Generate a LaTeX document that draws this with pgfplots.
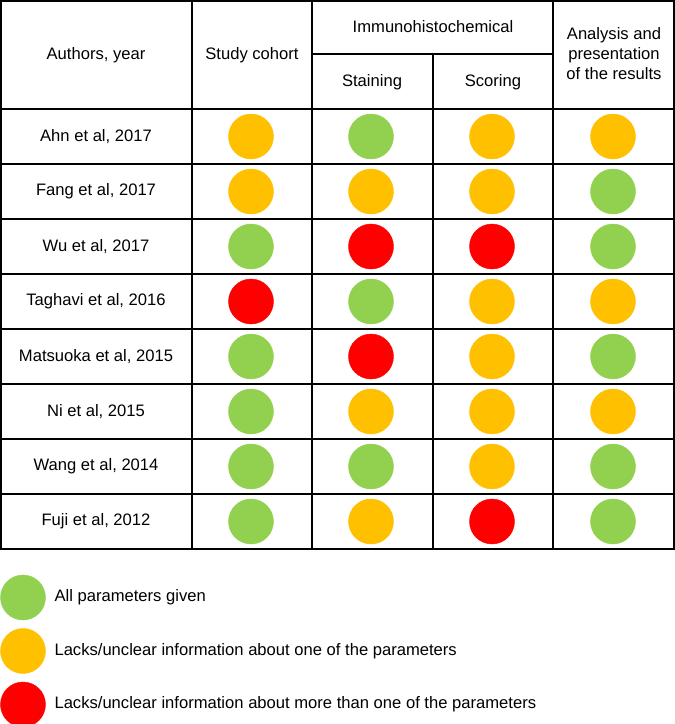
\documentclass[border=0pt]{standalone}
\usepackage{fontspec}
\setmainfont{Liberation Sans}
\usepackage{pgfplots}
\pgfplotsset{compat=1.18}
\definecolor{cgreen}{HTML}{92D050}
\definecolor{corange}{HTML}{FFC000}
\definecolor{cred}{HTML}{FF0000}
\begin{document}
\begin{tikzpicture}[font=\fontsize{16.6}{20}\selectfont]
\begin{axis}[width=675pt,height=724pt,scale only axis,
  xmin=0,xmax=675,ymin=0,ymax=724,y dir=reverse,hide axis,clip=false]
% table grid
\draw[line width=1.3pt] (axis cs:1,1) rectangle (axis cs:674,549);
\draw[line width=1.3pt] (axis cs:192,1) -- (axis cs:192,549);
\draw[line width=1.3pt] (axis cs:312,1) -- (axis cs:312,549);
\draw[line width=1.3pt] (axis cs:553,1) -- (axis cs:553,549);
\draw[line width=1.3pt] (axis cs:433,54) -- (axis cs:433,549);
\draw[line width=1.3pt] (axis cs:312,54) -- (axis cs:553,54);
\draw[line width=1.3pt] (axis cs:1,109) -- (axis cs:674,109);
\draw[line width=1.3pt] (axis cs:1,164) -- (axis cs:674,164);
\draw[line width=1.3pt] (axis cs:1,219) -- (axis cs:674,219);
\draw[line width=1.3pt] (axis cs:1,274) -- (axis cs:674,274);
\draw[line width=1.3pt] (axis cs:1,329) -- (axis cs:674,329);
\draw[line width=1.3pt] (axis cs:1,384) -- (axis cs:674,384);
\draw[line width=1.3pt] (axis cs:1,439) -- (axis cs:674,439);
\draw[line width=1.3pt] (axis cs:1,494) -- (axis cs:674,494);
% header text
\node at (axis cs:96,55) {Authors, year};
\node at (axis cs:252,55) {Study cohort};
\node at (axis cs:433,27) {Immunohistochemical};
\node at (axis cs:372,82) {Staining};
\node at (axis cs:493,82) {Scoring};
\node[align=center] at (axis cs:614,54) {Analysis and\\presentation\\of the results};
% row labels
\node at (axis cs:96,136.5) {Ahn et al, 2017};
\node at (axis cs:96,191.5) {Fang et al, 2017};
\node at (axis cs:96,246.5) {Wu et al, 2017};
\node at (axis cs:96,301.5) {Taghavi et al, 2016};
\node at (axis cs:96,356.5) {Matsuoka et al, 2015};
\node at (axis cs:96,411.5) {Ni et al, 2015};
\node at (axis cs:96,466.5) {Wang et al, 2014};
\node at (axis cs:96,521.5) {Fuji et al, 2012};
% circles
\addplot[only marks,mark=*,mark size=22.5pt,color=cgreen] coordinates {
 (371,136.5) (613,191.5) (251,246.5) (613,246.5) (371,301.5)
 (251,356.5) (613,356.5) (251,411.5) (251,466.5) (371,466.5)
 (613,466.5) (251,521.5) (613,521.5) (23,597.5)};
\addplot[only marks,mark=*,mark size=22.5pt,color=corange] coordinates {
 (251,136.5) (492,136.5) (613,136.5) (251,191.5) (371,191.5)
 (492,191.5) (492,301.5) (613,301.5) (492,356.5) (371,411.5)
 (492,411.5) (613,411.5) (492,466.5) (371,521.5) (23,651)};
\addplot[only marks,mark=*,mark size=22.5pt,color=cred] coordinates {
 (371,246.5) (492,246.5) (251,301.5) (371,356.5) (492,521.5) (23,704.5)};
% legend text
\node[anchor=west] at (axis cs:51,597.5) {All parameters given};
\node[anchor=west] at (axis cs:51,651) {Lacks/unclear information about one of the parameters};
\node[anchor=west] at (axis cs:51,704.5) {Lacks/unclear information about more than one of the parameters};
\end{axis}
\pgfresetboundingbox
\path (current axis.south west) rectangle (current axis.north east);
\end{tikzpicture}
\end{document}
